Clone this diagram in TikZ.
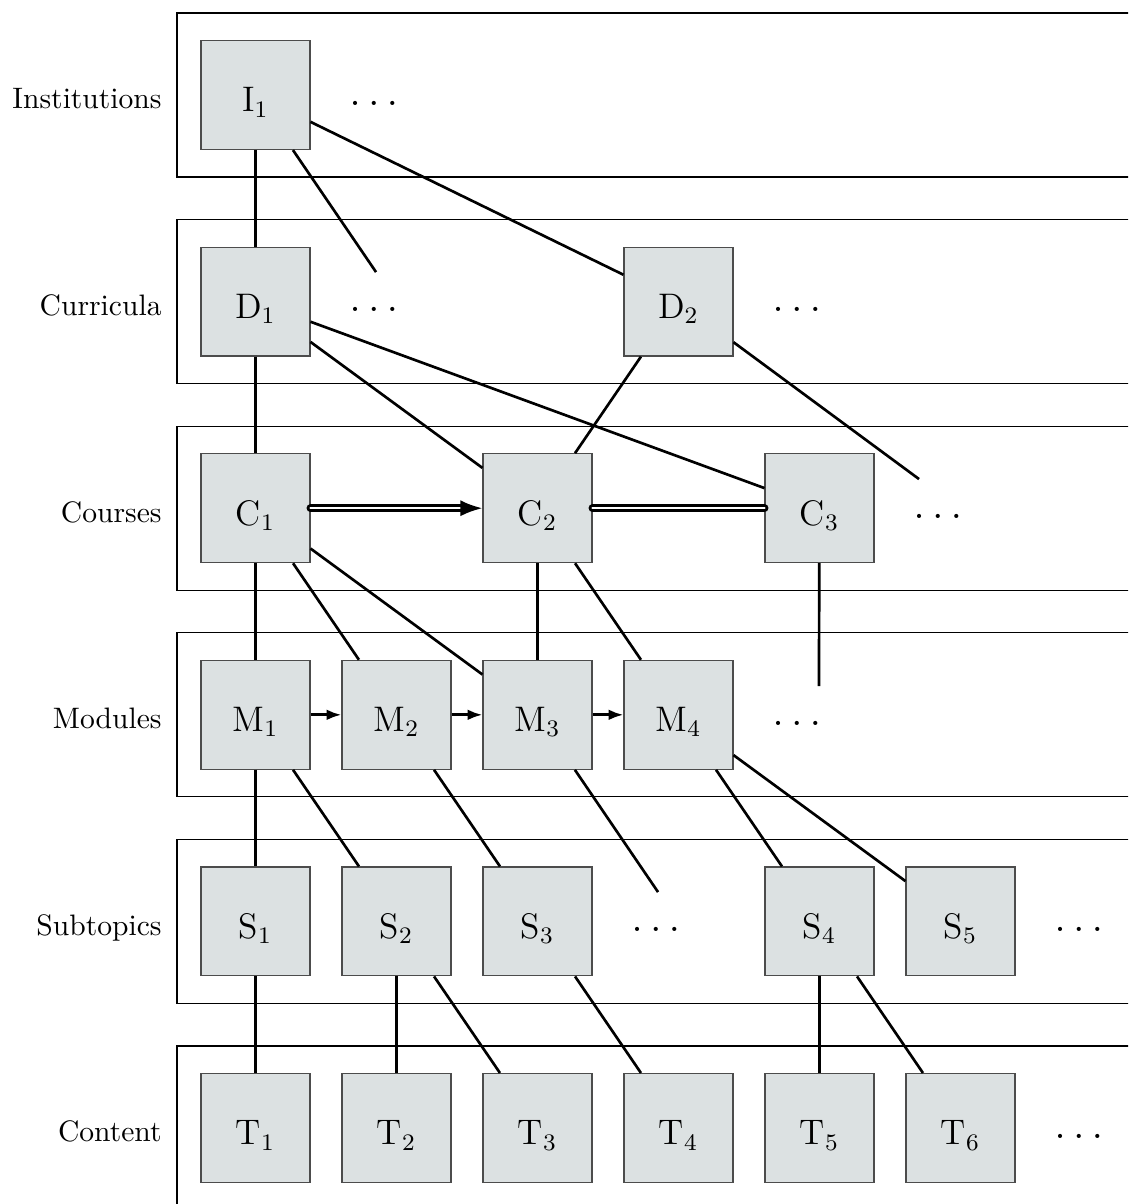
\documentclass[tikz,border=0pt]{standalone}
\usepackage{amsmath,amssymb}
\usepackage{tikz}
\usepackage{xcolor}
\usetikzlibrary{positioning,arrows.meta,calc}

\definecolor{boxgray}{RGB}{220,225,226}

\tikzset{
  unit/.style={draw=black!70,fill=boxgray,minimum size=36.8pt,inner sep=0pt,
    font=\large,text height=11.4pt,text depth=0pt},
  rowlabel/.style={anchor=east,text height=9.4pt,text depth=0pt},
  more/.style={font=\Large,text height=7pt,text depth=0pt},
  band/.style={draw=black},
  link/.style={line width=0.9pt},
  seq/.style={line width=0.9pt,-{Latex[length=5pt,width=3.6pt]}},
  prereq/.style={line width=0.95pt,double,double distance=0.8pt,line cap=round},
}

\begin{document}
\begin{tikzpicture}[x=47.66pt,y=-69.83pt]
  \clip (-1.812,-0.46) rectangle (6.188,5.368);
  % layers
  \foreach \r/\name in {0/Institutions,1/Curricula,2/Courses,3/Modules,4/Subtopics,5/Content}{
    \draw[band] (-0.557,\r-0.397) rectangle (6.5,\r+0.397);
    \node[rowlabel] (lab\r) at (-0.592,\r) {\name};
  }
  % units: letter/index/column/row
  \foreach \l/\i/\c/\r in {
     I/1/0/0,
     D/1/0/1, D/2/3/1,
     C/1/0/2, C/2/2/2, C/3/4/2,
     M/1/0/3, M/2/1/3, M/3/2/3, M/4/3/3,
     S/1/0/4, S/2/1/4, S/3/2/4, S/4/4/4, S/5/5/4,
     T/1/0/5, T/2/1/5, T/3/2/5, T/4/3/5, T/5/4/5, T/6/5/5}
    \node[unit] (\l\i) at (\c,\r) {\l$_{\i}$};
  % dots
  \foreach \c/\r [count=\k] in {0.84/0,0.84/1,3.84/1,4.84/2,3.84/3,2.84/4,5.84/4,5.84/5}
    \node[more] (dots\k) at (\c,\r) {$\ldots$};
  % loose ends
  \coordinate (eD) at (0.855,0.857);
  \coordinate (eC) at (4.706,1.859);
  \coordinate (eM) at (3.996,2.861);
  \coordinate (eS) at (2.855,3.858);
  % containment
  \foreach \a/\b in {I1/D1,I1/eD,I1/D2,
      D1/C1,D1/C2,D1/C3,D2/C2,D2/eC,
      C1/M1,C1/M2,C1/M3,C2/M3,C2/M4,C3/eM,
      M1/S1,M1/S2,M2/S3,M3/eS,M4/S4,M4/S5,
      S1/T1,S2/T2,S2/T3,S3/T4,S4/T5,S4/T6}
    \draw[link] (\a) -- (\b);
  % order
  \draw[prereq,-{Latex[length=7.5pt,width=5.5pt]}] (C1) -- (C2);
  \draw[prereq] (C2) -- (C3);
  \foreach \a/\b in {M1/M2,M2/M3,M3/M4}
    \draw[seq] (\a) -- (\b);
\end{tikzpicture}
\end{document}
